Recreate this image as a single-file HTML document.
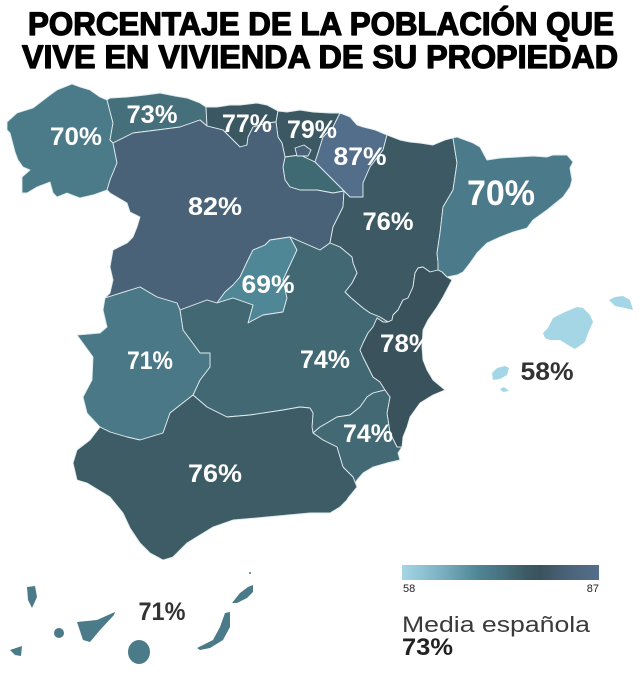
<!DOCTYPE html>
<html><head><meta charset="utf-8"><style>
html,body{margin:0;padding:0;background:#fff;}
svg{display:block;}
</style></head><body>
<svg width="641" height="677" viewBox="0 0 641 677" xmlns="http://www.w3.org/2000/svg">
<defs>
<linearGradient id="lg" x1="0" y1="0" x2="1" y2="0">
<stop offset="0" stop-color="#a5d6e5"/>
<stop offset="0.2" stop-color="#7ab0c1"/>
<stop offset="0.38" stop-color="#508796"/>
<stop offset="0.52" stop-color="#466f7c"/>
<stop offset="0.62" stop-color="#3e5c66"/>
<stop offset="0.70" stop-color="#3a525c"/>
<stop offset="0.83" stop-color="#4a6277"/>
<stop offset="1" stop-color="#546f8c"/>
</linearGradient>
</defs>
<rect width="641" height="677" fill="#fff"/>
<g font-family="Liberation Sans, Arial, sans-serif" font-weight="bold" fill="#000" stroke="#000" stroke-width="1.3" stroke-linejoin="round">
<text x="321" y="35" text-anchor="middle" font-size="32.5" textLength="586" lengthAdjust="spacingAndGlyphs">PORCENTAJE DE LA POBLACIÓN QUE</text>
<text x="320" y="68" text-anchor="middle" font-size="32.5" textLength="596" lengthAdjust="spacingAndGlyphs">VIVE EN VIVIENDA DE SU PROPIEDAD</text>
</g>
<g stroke="#dfebef" stroke-width="0.9" stroke-linejoin="round">
<polygon fill="#4b7b89" points="107,100 100,97 90,90 80,87 72,84 57,90 50,95 33,108 17,113 7,122 7,130 10,133 15,152 18,160 23,167 30,170 22,177 22,193 27,193 37,187 50,182 53,193 57,197 67,193 80,198 93,195 107,190 110,180 117,163 113,143 110,140 113,123"/>
<polygon fill="#466f7c" points="107,100 110,98 127,97 145,95 160,93 175,96 187,98 200,103 206,107 207,126 200,120 180,127 157,130 133,133 113,143 110,140 113,123"/>
<polygon fill="#3b5761" points="206,107 217,107 230,105 240,105 257,103 267,105 278,111 276,122 267,123 253,127 248,137 247,145 240,147 233,140 223,130 207,126"/>
<polygon fill="#3c5862" points="278,111 287,112 300,110 313,112 330,113 340,113 333,127 323,137 318,153 315,162 300,155 285,157 282,143 278,137 276,122"/>
<polygon fill="#536e8b" points="340,113 350,117 357,125 363,127 375,130 387,135 383,150 370,167 363,183 363,197 350,197 344,191 333,180 323,170 315,162 318,153 323,137 333,127"/>
<polygon fill="#406a73" points="285,157 300,155 315,162 323,170 333,180 344,191 333,193 317,190 300,190 290,187 285,180 283,167"/>
<polygon fill="#4a6277" points="107,190 110,193 127,203 130,212 140,217 137,227 133,237 127,243 113,250 110,267 113,280 110,293 105,298 140,287 157,297 177,303 180,310 207,300 217,303 225,292 233,285 240,277 247,262 253,250 265,245 270,240 290,237 313,247 320,250 330,243 333,227 343,207 344,191 333,193 317,190 300,190 290,187 285,180 283,167 285,157 282,143 278,137 276,122 267,123 253,127 248,137 247,145 240,147 233,140 223,130 207,126 200,120 180,127 157,130 133,133 113,143 117,163 110,180"/>
<polygon fill="#4a6277" points="295,148 304,145 311,150 308,156 297,156"/>
<polygon fill="#3d5a64" points="387,135 400,140 410,142 420,143 433,145 445,140 453,138 457,163 453,190 443,207 440,233 437,253 438,262 438,270 430,272 423,267 418,268 415,273 413,287 408,298 403,300 398,310 393,315 392,320 388,322 380,317 370,313 363,308 357,303 350,297 345,292 352,283 357,273 353,263 352,257 340,247 330,243 333,227 343,207 344,191 350,197 363,197 363,183 370,167 383,150"/>
<polygon fill="#4b7b8a" points="453,138 457,137 473,143 480,147 487,160 500,158 517,157 533,156 547,157 553,155 567,155 573,162 570,168 572,180 570,187 563,197 547,210 533,220 527,228 513,232 500,237 487,243 477,253 470,263 463,272 457,275 447,277 442,272 438,270 438,262 437,253 440,233 443,207 453,190 457,163"/>
<polygon fill="#508796" points="217,303 225,292 233,285 240,277 247,262 253,250 265,245 270,240 290,237 297,250 290,265 283,280 287,298 283,312 263,315 248,323 253,305 233,298"/>
<polygon fill="#426873" points="180,310 207,300 217,303 233,298 253,305 248,323 263,315 283,312 287,298 283,280 290,265 297,250 290,237 313,247 320,250 330,243 340,247 352,257 353,263 357,273 352,283 345,292 350,297 357,303 363,308 370,313 380,317 388,322 383,322 377,318 373,327 368,333 363,343 360,350 363,357 373,377 380,382 385,390 373,393 367,397 360,407 350,415 337,417 327,423 320,427 313,433 312,427 313,413 310,408 300,407 283,410 250,415 227,417 207,407 193,395 200,380 210,367 210,353 200,353 183,330"/>
<polygon fill="#4a7886" points="105,298 140,287 157,297 177,303 180,310 183,330 200,353 210,353 210,367 200,380 193,395 170,413 163,433 140,440 127,437 110,432 100,427 87,413 83,397 92,380 93,357 77,335 100,333 107,327 103,310"/>
<polygon fill="#3a525c" points="447,277 452,280 443,297 437,307 428,320 423,330 422,347 423,360 427,370 433,380 445,390 433,395 420,403 410,417 407,427 403,437 402,447 397,447 390,433 387,413 390,397 385,390 380,382 373,377 363,357 360,350 363,343 368,333 373,327 377,318 383,322 388,322 392,320 393,315 398,310 403,300 408,298 413,287 415,273 418,268 423,267 430,272 438,270 442,272"/>
<polygon fill="#436974" points="385,390 390,397 387,413 390,433 397,447 402,447 398,453 400,460 387,463 373,467 363,473 357,480 350,493 348,498 357,487 353,477 343,467 340,457 337,447 323,440 313,433 320,427 327,423 337,417 350,415 360,407 367,397 373,393"/>
<polygon fill="#3e5c66" points="193,395 207,407 227,417 250,415 283,410 300,407 310,408 313,413 312,427 313,433 323,440 337,447 340,457 343,467 353,477 357,487 348,498 347,500 340,507 330,513 310,513 267,517 233,520 213,527 187,543 173,557 163,560 150,553 140,543 130,528 123,513 110,497 87,483 77,480 73,463 77,450 90,440 100,427 110,432 127,437 140,440 163,433 170,413"/>
</g>
<g fill="#a5d6e5">
<polygon points="543,333 548,328 553,318 565,312 577,307 583,308 590,315 593,322 588,333 585,342 575,349 568,345 560,340 550,340 545,338"/>
<polygon points="609,300 615,297 623,296 630,300 633,310 625,308 615,306"/>
<polygon points="492,373 497,368 505,366 509,368 507,375 500,379 493,380"/>
<polygon points="500,389 504,387 509,391 503,392"/>
</g>
<g fill="#4b7a88">
<polygon points="27,587 35,586 37,597 32,608 28,600"/>
<polygon points="10,650 22,646 21,656 15,655"/>
<ellipse cx="59" cy="633" rx="5" ry="5"/>
<polygon points="77,622 97,620 115,612 114,615 100,630 90,642 83,640"/>
<ellipse cx="139" cy="652" rx="11" ry="12"/>
<polygon points="197,648 213,640 220,627 225,613 230,612 230,627 223,640 210,648 200,650"/>
<polygon points="232,603 240,593 248,587 253,585 253,592 247,598 237,603"/>
<circle cx="250" cy="573" r="1"/>
</g>
<g font-family="Liberation Sans, Arial, sans-serif" font-weight="bold" fill="#fff" font-size="25" text-anchor="middle">
<text x="76" y="145" textLength="52" lengthAdjust="spacingAndGlyphs">70%</text>
<text x="152" y="123" textLength="51" lengthAdjust="spacingAndGlyphs">73%</text>
<text x="247" y="132" textLength="50" lengthAdjust="spacingAndGlyphs">77%</text>
<text x="312" y="138" textLength="50" lengthAdjust="spacingAndGlyphs">79%</text>
<text x="360" y="165" textLength="53" lengthAdjust="spacingAndGlyphs">87%</text>
<text x="215" y="215" textLength="54" lengthAdjust="spacingAndGlyphs">82%</text>
<text x="268" y="293" textLength="53" lengthAdjust="spacingAndGlyphs">69%</text>
<text x="388" y="230" textLength="51" lengthAdjust="spacingAndGlyphs">76%</text>
<text x="501" y="205" font-size="35" textLength="68" lengthAdjust="spacingAndGlyphs">70%</text>
<text x="150" y="369" textLength="46" lengthAdjust="spacingAndGlyphs">71%</text>
<text x="325" y="368" textLength="50" lengthAdjust="spacingAndGlyphs">74%</text>
<text x="406" y="352" textLength="52" lengthAdjust="spacingAndGlyphs">78%</text>
<text x="368" y="442" textLength="50" lengthAdjust="spacingAndGlyphs">74%</text>
<text x="215" y="482" textLength="54" lengthAdjust="spacingAndGlyphs">76%</text>
<text x="547" y="380" fill="#333" textLength="53" lengthAdjust="spacingAndGlyphs">58%</text>
<text x="162" y="620" fill="#333" textLength="47" lengthAdjust="spacingAndGlyphs">71%</text>
</g>
<rect x="402" y="565" width="197" height="15" fill="url(#lg)"/>
<g font-family="Liberation Sans, Arial, sans-serif" fill="#222" font-size="11">
<text x="403" y="592">58</text>
<text x="599" y="592" text-anchor="end">87</text>
</g>
<text x="402" y="632" font-family="Liberation Sans, Arial, sans-serif" font-size="22" fill="#3a3a3a" textLength="188" lengthAdjust="spacingAndGlyphs">Media española</text>
<text x="402" y="655" font-family="Liberation Sans, Arial, sans-serif" font-weight="bold" font-size="24" fill="#222" textLength="51" lengthAdjust="spacingAndGlyphs">73%</text>
</svg>
</body></html>
